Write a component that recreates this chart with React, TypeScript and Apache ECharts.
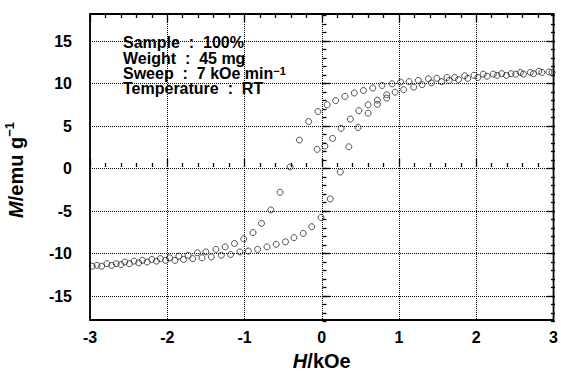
import React, { useEffect, useRef } from "react";
import * as echarts from "echarts";

// Descending branch (field swept from +3 to -3 kOe)
const descH = [2.94, 2.81, 2.70, 2.57, 2.45, 2.33, 2.22, 2.09, 1.97, 1.85, 1.72, 1.62, 1.49, 1.38, 1.25, 1.13, 1.02, 0.91, 0.78, 0.66, 0.54, 0.42, 0.30, 0.18, 0.07, -0.05, -0.17, -0.29, -0.41, -0.54, -0.66, -0.78, -0.89, -1.01, -1.13, -1.25, -1.37, -1.50, -1.61, -1.73, -1.85, -1.97, -2.09, -2.20, -2.32, -2.43, -2.55, -2.66, -2.78, -2.91];
const descM = [11.3, 11.4, 11.25, 11.25, 11.1, 11.1, 11.05, 11.05, 10.9, 10.85, 10.65, 10.65, 10.55, 10.5, 10.3, 10.15, 10.1, 9.9, 9.7, 9.4, 9.1, 8.8, 8.4, 7.9, 7.4, 6.6, 5.4, 3.2, 0.0, -3.0, -5.1, -6.7, -7.8, -8.55, -9.1, -9.5, -9.8, -10.1, -10.2, -10.5, -10.6, -10.8, -10.9, -11.0, -11.1, -11.2, -11.3, -11.5, -11.5, -11.7];

// Ascending branch (field swept from -3 to +3 kOe)
const ascH = [-2.97, -2.85, -2.72, -2.60, -2.49, -2.37, -2.26, -2.14, -2.02, -1.90, -1.79, -1.67, -1.55, -1.43, -1.30, -1.18, -1.06, -0.95, -0.83, -0.71, -0.59, -0.47, -0.36, -0.24, -0.13, -0.01, 0.11, 0.24, 0.35, 0.47, 0.60, 0.72, 0.84, 0.95, 1.06, 1.19, 1.30, 1.42, 1.55, 1.65, 1.77, 1.89, 2.02, 2.14, 2.27, 2.39, 2.51, 2.61, 2.74, 2.85, 2.98];
const ascM = [-11.8, -11.8, -11.7, -11.6, -11.5, -11.4, -11.3, -11.2, -11.1, -11.1, -11.0, -10.9, -10.8, -10.7, -10.5, -10.4, -10.1, -10.0, -9.8, -9.5, -9.2, -8.9, -8.4, -7.9, -7.1, -6.0, -3.8, -0.6, 2.4, 4.7, 6.4, 7.45, 8.2, 8.9, 9.2, 9.5, 9.8, 10.0, 10.15, 10.3, 10.4, 10.55, 10.65, 10.8, 10.9, 10.9, 11.05, 11.05, 11.1, 11.25, 11.25];

// Initial magnetization points
const initH = [-0.06, 0.04, 0.14, 0.25, 0.37, 0.48, 0.60, 0.72, 0.84];
const initM = [2.1, 2.5, 3.4, 4.6, 5.7, 6.7, 7.4, 7.95, 8.6];

const infoLines = ["Sample  :  100%", "Weight  :  45 mg", "Sweep  :  7 kOe min{s|−1}", "Temperature  :  RT"];

const FONT = "'Liberation Sans', Arial, Helvetica, sans-serif";

// layout
const W = 561, H = 376;
const BOX_TOP = 14, BOX_BOTTOM = 323.4, BOX_LEFT = 90, BOX_RIGHT = 555;
const Y_EXT = 18.2;
const k = (BOX_BOTTOM - BOX_TOP) / (2 * Y_EXT);
const yc = (BOX_TOP + BOX_BOTTOM) / 2;
const pos = (v: number) => yc - v * k;

export default function App() {
  const ref = useRef<HTMLDivElement>(null);
  useEffect(() => {
    if (!ref.current) return;
    const chart = echarts.init(ref.current, null, { renderer: "svg" });
    const pts = (hs: number[], ms: number[]) => hs.map((h, i) => [h, ms[i]]);
    const gridBase = { left: BOX_LEFT, right: W - BOX_RIGHT };
    const scatterStyle = {
      type: "scatter" as const,
      xAxisIndex: 0,
      yAxisIndex: 0,
      symbol: "circle",
      symbolSize: 6,
      itemStyle: { color: "rgba(255,255,255,0)", borderColor: "#111", borderWidth: 0.9 },
      silent: true,
    };
    const tickStyle = { color: "#000", width: 1.3 };
    chart.setOption({
      animation: false,
      backgroundColor: "#fff",
      textStyle: { fontFamily: FONT },
      grid: [
        { ...gridBase, top: BOX_TOP, bottom: H - BOX_BOTTOM, show: true, borderColor: "#000", borderWidth: 1.8, backgroundColor: "transparent" },
        { ...gridBase, top: pos(15), bottom: H - pos(-15) },
        { ...gridBase, top: pos(18), bottom: H - pos(-18) },
      ],
      xAxis: [
        {
          gridIndex: 0, type: "value", position: "bottom", min: -3, max: 3, interval: 1,
          axisLine: { show: false },
          axisTick: { show: true, inside: true, length: 8, lineStyle: tickStyle },
          minorTick: { show: true, splitNumber: 5, length: 4, lineStyle: tickStyle },
          splitLine: { show: true, lineStyle: { color: "#000", type: "dotted", width: 1 } },
          axisLabel: { color: "#000", fontSize: 16, fontWeight: "bold", fontFamily: FONT, margin: 9 },
          name: "{i|H}/kOe",
          nameLocation: "middle",
          nameGap: 31,
          nameTextStyle: {
            color: "#000", fontSize: 20, fontWeight: "bold", fontFamily: FONT,
            rich: { i: { fontStyle: "italic", fontSize: 20, fontWeight: "bold", fontFamily: FONT, color: "#000" } },
          },
        },
        {
          gridIndex: 0, type: "value", position: "top", min: -3, max: 3, interval: 1,
          axisLine: { show: false },
          axisTick: { show: true, inside: true, length: 8, lineStyle: tickStyle },
          minorTick: { show: true, splitNumber: 5, length: 4, lineStyle: tickStyle },
          splitLine: { show: false },
          axisLabel: { show: false },
        },
        { gridIndex: 1, type: "value", min: -3, max: 3, show: false },
        { gridIndex: 2, type: "value", min: -3, max: 3, show: false },
      ],
      yAxis: [
        { gridIndex: 0, type: "value", min: -Y_EXT, max: Y_EXT, show: false },
        {
          gridIndex: 1, type: "value", position: "left", min: -15, max: 15, interval: 5,
          axisLine: { show: false },
          axisTick: { show: true, inside: true, length: 8, lineStyle: tickStyle },
          splitLine: { show: true, lineStyle: { color: "#000", type: "dotted", width: 1 } },
          axisLabel: { color: "#000", fontSize: 16, fontWeight: "bold", fontFamily: FONT, margin: 18 },
        },
        {
          gridIndex: 1, type: "value", position: "right", min: -15, max: 15, interval: 5,
          axisLine: { show: false },
          axisTick: { show: true, inside: true, length: 8, lineStyle: tickStyle },
          splitLine: { show: false },
          axisLabel: { show: false },
        },
        {
          gridIndex: 2, type: "value", position: "left", min: -18, max: 18, interval: 1,
          axisLine: { show: false },
          axisTick: { show: true, inside: true, length: 4, lineStyle: tickStyle },
          splitLine: { show: false },
          axisLabel: { show: false },
        },
        {
          gridIndex: 2, type: "value", position: "right", min: -18, max: 18, interval: 1,
          axisLine: { show: false },
          axisTick: { show: true, inside: true, length: 4, lineStyle: tickStyle },
          splitLine: { show: false },
          axisLabel: { show: false },
        },
      ],
      graphic: [
        {
          type: "text",
          x: 16,
          y: 170,
          rotation: Math.PI / 2,
          style: {
            text: "{i|M}/emu g{s|−1}",
            align: "center",
            verticalAlign: "middle",
            fill: "#000",
            font: `bold 20px ${FONT}`,
            rich: {
              i: { fontStyle: "italic", fontWeight: "bold", fontSize: 20, fontFamily: FONT, fill: "#000", lineHeight: 26 },
              s: { fontWeight: "bold", fontSize: 13, fontFamily: FONT, fill: "#000", verticalAlign: "top", lineHeight: 13 },
            },
          },
          z: 100,
        },
        {
          type: "text",
          x: 123,
          y: 35,
          style: {
            text: infoLines.join("\n"),
            align: "left",
            verticalAlign: "top",
            fill: "#000",
            font: `bold 16px ${FONT}`,
            lineHeight: 15.4,
            rich: {
              s: { fontWeight: "bold", fontSize: 11, fontFamily: FONT, fill: "#000", verticalAlign: "top", lineHeight: 9 },
            },
          },
          z: 100,
        },
      ],
      series: [
        { ...scatterStyle, name: "descending", data: pts(descH, descM) },
        { ...scatterStyle, name: "ascending", data: pts(ascH, ascM) },
        { ...scatterStyle, name: "initial", data: pts(initH, initM) },
      ],
    });
    return () => chart.dispose();
  }, []);
  return <div ref={ref} style={{ position: "fixed", left: 0, top: 0, width: W, height: H, background: "#fff" }} />;
}
